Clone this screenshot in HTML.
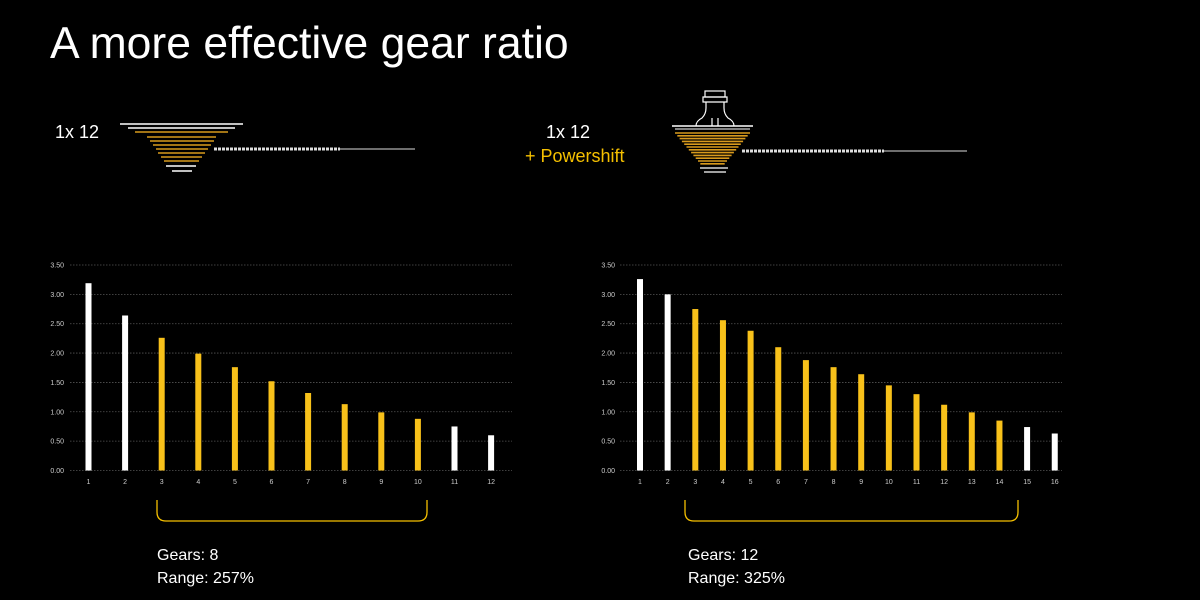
<!DOCTYPE html>
<html><head><meta charset="utf-8"><style>
html,body{margin:0;padding:0;background:#000;width:1200px;height:600px;overflow:hidden}
svg{display:block}
text{font-family:"Liberation Sans",Arial,sans-serif}
</style></head><body>
<svg id="s" width="1200" height="600" viewBox="0 0 1200 600" xmlns="http://www.w3.org/2000/svg">
<rect width="1200" height="600" fill="#000"/>
<text x="50" y="58" fill="#fff" font-size="44.5">A more effective gear ratio</text>
<text x="55" y="138" fill="#fff" font-size="18">1x 12</text>
<text x="546" y="138" fill="#fff" font-size="18">1x 12</text>
<text x="525" y="162" fill="#f5c000" font-size="18">+ Powershift</text>
<text x="157" y="560" fill="#fff" font-size="16">Gears: 8</text>
<text x="157" y="583" fill="#fff" font-size="16">Range: 257%</text>
<text x="688" y="560" fill="#fff" font-size="16">Gears: 12</text>
<text x="688" y="583" fill="#fff" font-size="16">Range: 325%</text>
<path d="M157 500 V512 Q157 521 166 521 H418 Q427 521 427 512 V500" fill="none" stroke="#f5c000" stroke-width="1.3"/>
<path d="M685 500 V512 Q685 521 694 521 H1009 Q1018 521 1018 512 V500" fill="none" stroke="#f5c000" stroke-width="1.3"/>
<g id="g"></g>
<g fill="none" stroke="#fff" stroke-width="1.2">
<rect x="705" y="91" width="20" height="6"/>
<path d="M703 97 h24 v5 h-24z"/>
<path d="M706 102 v6 q0 6 -4 10 q-6 3 -6 8 M724 102 v6 q0 6 4 10 q6 3 6 8"/>
<path d="M712 126 v-8 M718 126 v-8"/>
</g>
</svg>
<script>
const g=document.getElementById('g');let h='';
const W='#fff',YC='#f8c11a',GC='#d89a1c';
function chart(lx,gx0,gx1,x0,dx,vals,whites){
 const base=470.5,sc=205.5/3.5;
 for(let i=0;i<=7;i++){const y=base-i*0.5*sc;
  h+=`<line x1="${gx0}" y1="${y}" x2="${gx1}" y2="${y}" stroke="#555" stroke-width="0.8" stroke-dasharray="1.5 1.5"/>`;
  h+=`<text x="${lx}" y="${y+2.5}" fill="#ccc" font-size="7" text-anchor="end">${(i*0.5).toFixed(2)}</text>`;}
 vals.forEach((v,i)=>{const x=x0+i*dx,c=whites.includes(i+1)?W:YC;
  h+=`<rect x="${x-3}" y="${base-v*sc}" width="6" height="${v*sc}" fill="${c}"/>`;
  h+=`<text x="${x}" y="484" fill="#ccc" font-size="7" text-anchor="middle">${i+1}</text>`;});
}
chart(64,70,512,88.5,36.6,[3.19,2.64,2.26,1.99,1.76,1.52,1.32,1.13,0.99,0.88,0.75,0.6],[1,2,11,12]);
chart(615,620,1062,640,27.65,[3.26,3.0,2.75,2.56,2.38,2.1,1.88,1.76,1.64,1.45,1.3,1.12,0.99,0.85,0.74,0.63],[1,2,15,16]);
const L=[[124,120,243,W],[128,128,235,W],[132,135,228,GC],[137,147,216,GC],[141,150,214,GC],[145,153,211,GC],[149,156,208,GC],[153,158,205,GC],[157,161,202,GC],[161,164,199,GC],[166,166,196,W],[171,172,192,W]];
L.forEach(([y,a,b,c])=>h+=`<line x1="${a}" y1="${y}" x2="${b}" y2="${y}" stroke="${c}" stroke-width="1.6"/>`);
h+=`<line x1="214" y1="149" x2="340" y2="149" stroke="#ddd" stroke-width="3" stroke-dasharray="3 1"/><line x1="340" y1="149" x2="415" y2="149" stroke="#ddd" stroke-width="1"/>`;
h+=`<line x1="672" y1="126" x2="753" y2="126" stroke="#fff" stroke-width="1.6"/><line x1="675" y1="129" x2="750" y2="129" stroke="#fff" stroke-width="1"/>`;
for(let i=0;i<12;i++){const y=133+i*2.8,a=675+i*2.3,b=750-i*2.3;h+=`<line x1="${a}" y1="${y}" x2="${b}" y2="${y}" stroke="${GC}" stroke-width="1.6"/>`;}
h+=`<line x1="700" y1="168" x2="728" y2="168" stroke="#fff" stroke-width="1.3"/><line x1="704" y1="172" x2="726" y2="172" stroke="#fff" stroke-width="1.3"/>`;
h+=`<line x1="742" y1="151" x2="884" y2="151" stroke="#ddd" stroke-width="3" stroke-dasharray="3 1"/><line x1="884" y1="151" x2="967" y2="151" stroke="#ddd" stroke-width="1"/>`;
g.innerHTML=h;
</script>
</body></html>
